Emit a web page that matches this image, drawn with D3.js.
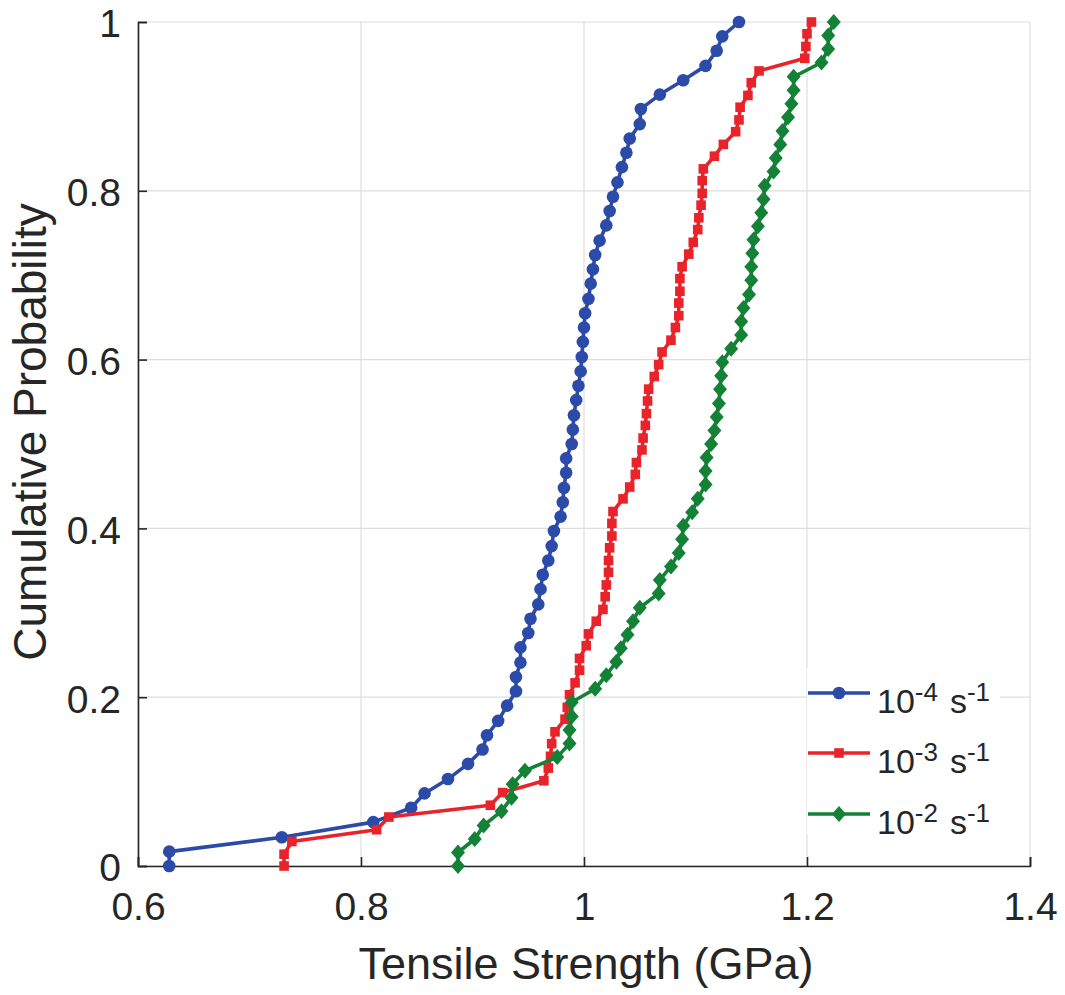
<!DOCTYPE html>
<html>
<head>
<meta charset="utf-8">
<script src="https://cdn.jsdelivr.net/npm/d3@7"></script>
<style>
  body { margin: 0; background: #fff; }
  text { font-family: "Liberation Sans", Arial, sans-serif; fill: #262626; }
</style>
</head>
<body>
<div id="chart"></div>
<script>
// tensile strength (GPa), one array per strain rate
let blueX = [0.628, 0.628, 0.729, 0.811, 0.845, 0.857, 0.878, 0.896, 0.909, 0.913,
  0.923, 0.931, 0.939, 0.939, 0.943, 0.943, 0.950, 0.952, 0.959, 0.961,
  0.963, 0.968, 0.971, 0.973, 0.979, 0.981, 0.982, 0.984, 0.984, 0.989,
  0.990, 0.991, 0.993, 0.995, 0.997, 0.998, 0.999, 1.000, 1.001, 1.004,
  1.006, 1.008, 1.010, 1.014, 1.020, 1.023, 1.026, 1.030, 1.034, 1.038,
  1.041, 1.050, 1.051, 1.068, 1.089, 1.109, 1.119, 1.124, 1.139];
let blueY = [0, .017, .034, .052, .069, .086, .103, .121, .138, .155,
  .172, .190, .207, .224, .241, .259, .276, .293, .310, .328,
  .345, .362, .379, .397, .414, .431, .448, .466, .483, .500,
  .517, .534, .552, .569, .586, .603, .621, .638, .655, .672,
  .690, .707, .724, .741, .759, .776, .793, .810, .828, .845,
  .862, .879, .897, .914, .931, .948, .966, .983, 1];

let redX = [0.731, 0.731, 0.738, 0.814, 0.825, 0.916, 0.927, 0.964, 0.968, 0.970,
  0.971, 0.974, 0.983, 0.985, 0.987, 0.992, 0.996, 0.996, 1.002, 1.004,
  1.011, 1.017, 1.019, 1.020, 1.022, 1.022, 1.023, 1.025, 1.025, 1.026,
  1.035, 1.041, 1.046, 1.047, 1.052, 1.053, 1.055, 1.056, 1.057, 1.058,
  1.063, 1.067, 1.070, 1.078, 1.082, 1.085, 1.085, 1.086, 1.086, 1.088,
  1.094, 1.098, 1.102, 1.103, 1.105, 1.106, 1.106, 1.107, 1.117, 1.125,
  1.136, 1.139, 1.140, 1.147, 1.150, 1.157, 1.198, 1.199, 1.200, 1.204];
let redY = [0, .014, .029, .043, .058, .072, .087, .101, .116, .130,
  .145, .159, .174, .188, .203, .217, .232, .246, .261, .275,
  .290, .304, .319, .333, .348, .362, .377, .391, .406, .420,
  .435, .449, .464, .478, .493, .507, .522, .536, .551, .565,
  .580, .594, .609, .623, .638, .652, .667, .681, .696, .710,
  .725, .739, .754, .768, .783, .797, .812, .826, .841, .855,
  .870, .884, .899, .913, .928, .942, .957, .971, .986, 1];

let greenX = [0.887, 0.887, 0.902, 0.910, 0.926, 0.935, 0.936, 0.947, 0.976, 0.987,
  0.987, 0.989, 0.989, 1.010, 1.020, 1.029, 1.033, 1.039, 1.044, 1.050,
  1.067, 1.068, 1.078, 1.085, 1.088, 1.089, 1.097, 1.102, 1.109, 1.109,
  1.110, 1.114, 1.117, 1.119, 1.121, 1.122, 1.123, 1.124, 1.132, 1.141,
  1.141, 1.143, 1.148, 1.150, 1.150, 1.151, 1.152, 1.156, 1.159, 1.161,
  1.162, 1.170, 1.172, 1.176, 1.178, 1.183, 1.186, 1.188, 1.188, 1.213,
  1.219, 1.219, 1.224];
let greenY = [0, .016, .032, .048, .065, .081, .097, .113, .129, .145,
  .161, .177, .194, .210, .226, .242, .258, .274, .290, .306,
  .323, .339, .355, .371, .387, .403, .419, .435, .452, .468,
  .484, .500, .516, .532, .548, .565, .581, .597, .613, .629,
  .645, .661, .677, .694, .710, .726, .742, .758, .774, .790,
  .806, .823, .839, .855, .871, .887, .903, .919, .935, .952,
  .968, .984, 1];

let rateExp = ["-4", "-3", "-2"];
let xTicks = [0.6, 0.8, 1, 1.2, 1.4];
let yTicks = [0, 0.2, 0.4, 0.6, 0.8, 1];

let series = [
  {x: blueX, y: blueY, color: "#2c4aa8", marker: "circle"},
  {x: redX, y: redY, color: "#e8232a", marker: "square"},
  {x: greenX, y: greenY, color: "#138236", marker: "diamond"}
];

let svg = d3.select("#chart").append("svg").attr("width", 1065).attr("height", 995);

let x_scale = d3.scaleLinear().domain([0.6, 1.4]).range([138, 1030]);
let y_scale = d3.scaleLinear().domain([0, 1]).range([866, 22]);

// grid
svg.append("g").selectAll("line").data(xTicks).join("line")
  .attr("x1", d => x_scale(d)).attr("x2", d => x_scale(d))
  .attr("y1", 22).attr("y2", 866)
  .style("stroke", "#dedede").style("stroke-width", 1.2);
svg.append("g").selectAll("line").data(yTicks).join("line")
  .attr("x1", 138).attr("x2", 1030)
  .attr("y1", d => y_scale(d)).attr("y2", d => y_scale(d))
  .style("stroke", "#dedede").style("stroke-width", 1.2);

// axes (ticks point inward like matlab)
let x_axis = d3.axisBottom(x_scale).tickValues(xTicks).tickFormat(d3.format("~g"))
  .tickSize(-9).tickPadding(26);
let gx = svg.append("g").attr("transform", "translate(0, 866)").call(x_axis);
let y_axis = d3.axisLeft(y_scale).tickValues(yTicks).tickFormat(d3.format("~g"))
  .tickSize(-9).tickPadding(17);
let gy = svg.append("g").attr("transform", "translate(138, 0)").call(y_axis);

[gx, gy].forEach(g => {
  g.select(".domain").style("stroke", "#262626").style("stroke-width", 1.6);
  g.selectAll(".tick line").style("stroke", "#262626").style("stroke-width", 1.6);
  g.selectAll(".tick text").style("font-size", "39px").style("font-family", "Liberation Sans, Arial, sans-serif").attr("fill", "#262626");
});
gy.selectAll(".tick text").attr("dy", "0.38em");

function drawMarker(sel, type, color) {
  if (type == "circle") {
    sel.append("circle").attr("r", 6.3).style("fill", color);
  } else if (type == "square") {
    sel.append("rect").attr("x", -4.8).attr("y", -4.8).attr("width", 9.6).attr("height", 9.6).style("fill", color);
  } else {
    sel.append("path").attr("d", "M0,-8L7,0L0,8L-7,0Z").style("fill", color);
  }
}

let line = d3.line().x(d => x_scale(d[0])).y(d => y_scale(d[1]));

for (const s of series) {
  let pts = s.x.map((v, i) => [v, s.y[i]]);
  svg.append("path").datum(pts)
    .style("fill", "none").style("stroke", s.color).style("stroke-width", 3.6)
    .style("stroke-linejoin", "round")
    .attr("d", line);
  svg.append("g").selectAll("g").data(pts).join("g")
    .attr("transform", d => "translate(" + x_scale(d[0]) + "," + y_scale(d[1]) + ")")
    .each(function() { drawMarker(d3.select(this), s.marker, s.color); });
}

// legend
let legend = svg.append("g");
legend.append("rect").attr("x", 807).attr("y", 668).attr("width", 193).attr("height", 166)
  .style("fill", "#fff");
let rowY = [693, 753, 814];
series.forEach((s, i) => {
  let row = legend.append("g").attr("transform", "translate(0," + rowY[i] + ")");
  row.append("line").attr("x1", 808).attr("x2", 870).attr("y1", 0).attr("y2", 0)
    .style("stroke", s.color).style("stroke-width", 3.6);
  drawMarker(row.append("g").attr("transform", "translate(839,0)"), s.marker, s.color);
  let t = row.append("text").attr("x", 877).attr("y", 20).style("font-size", "34px");
  t.append("tspan").text("10");
  t.append("tspan").attr("dy", -12).style("font-size", "26px").text(rateExp[i]);
  t.append("tspan").attr("dy", 12).attr("dx", 12).text("s");
  t.append("tspan").attr("dy", -12).style("font-size", "26px").text("-1");
});

// axis titles
svg.append("text").attr("x", 586).attr("y", 979).attr("text-anchor", "middle")
  .style("font-size", "45px").text("Tensile Strength (GPa)");
svg.append("text").attr("transform", "translate(46,432) rotate(-90)").attr("text-anchor", "middle")
  .style("font-size", "46px").text("Cumulative Probability");
</script>
</body>
</html>
